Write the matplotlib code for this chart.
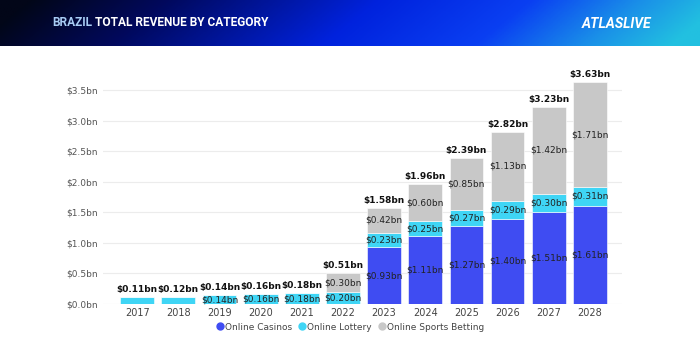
import numpy as np
import matplotlib.pyplot as plt
from matplotlib.colors import LinearSegmentedColormap

years = ["2017", "2018", "2019", "2020", "2021", "2022",
         "2023", "2024", "2025", "2026", "2027", "2028"]
casinos = [0, 0, 0, 0, 0, 0, 0.93, 1.11, 1.27, 1.40, 1.51, 1.61]
lottery = [0.11, 0.12, 0.14, 0.16, 0.18, 0.20, 0.23, 0.25, 0.27, 0.29, 0.30, 0.31]
sports = [0, 0, 0, 0, 0, 0.30, 0.42, 0.60, 0.85, 1.13, 1.42, 1.71]
totals = [0.11, 0.12, 0.14, 0.16, 0.18, 0.51, 1.58, 1.96, 2.39, 2.82, 3.23, 3.63]
series_names = ["Online Casinos", "Online Lottery", "Online Sports Betting"]
colors = ["#3f4cf2", "#3fd5f5", "#c8c8c8"]

fig = plt.figure(figsize=(7, 3.5), dpi=100)
fig.patch.set_facecolor("white")

# header band with gradient
hdr = fig.add_axes([0, 1 - 46 / 350, 1, 46 / 350])
cmap = LinearSegmentedColormap.from_list(
    "hdr", [(0, "#020618"), (0.2, "#01095e"), (0.5, "#0022dd"),
            (0.72, "#0a3ff2"), (0.88, "#1a90e8"), (1, "#22c0e0")])
gx = np.linspace(0, 1, 400)
gy = np.linspace(0, 1, 30)
X, Y = np.meshgrid(gx, gy)
hdr.imshow(np.clip(X + 0.08 * Y - 0.04, 0, 1), cmap=cmap, aspect="auto",
           extent=[0, 1, 0, 1], origin="upper")
hdr.set_axis_off()
t1 = hdr.text(52 / 700, 0.52, "BRAZIL", color="#a8ccf4", fontsize=8.6,
              fontweight="bold", family="Roboto", va="center", ha="left")
hdr.annotate(" TOTAL REVENUE BY CATEGORY", xy=(1, 0.5), xycoords=t1,
             color="white", fontsize=8.6, fontweight="bold", family="Roboto",
             va="center", ha="left")
hdr.text(617 / 700, 0.47, "ATLASLIVE", color="white", fontsize=10,
         fontweight="bold", style="italic", family="Roboto",
         va="center", ha="center")

ax = fig.add_axes([103 / 700, 1 - 304 / 350, 519 / 700, 238 / 350])
x = np.arange(len(years))
w = 0.82
bottom = np.zeros(len(years))
for vals, name, c in zip([casinos, lottery, sports], series_names, colors):
    vals = np.array(vals)
    ax.bar(x, vals, w, bottom=bottom, color=c, label=name, edgecolor="white",
           linewidth=0.4, zorder=2)
    for i, v in enumerate(vals):
        if v >= 0.13:
            ax.text(x[i], bottom[i] + v / 2, f"${v:.2f}bn", ha="center",
                    va="center", fontsize=6.5, color="#222222", zorder=3)
    bottom += vals

for i, t in enumerate(totals):
    ax.text(x[i], bottom[i] + 0.05, f"${t:.2f}bn", ha="center", va="bottom",
            fontsize=6.5, fontweight="bold", color="#111111", zorder=3)

ax.set_xlim(-0.83, 11.78)
ax.set_ylim(0, 3.9)
ax.set_yticks(np.arange(0, 3.6, 0.5))
ax.set_yticklabels([f"${v:.1f}bn" for v in np.arange(0, 3.6, 0.5)])
ax.set_xticks(x)
ax.set_xticklabels(years)
ax.tick_params(axis="y", length=0, labelsize=6.5, labelcolor="#555555", pad=4)
ax.tick_params(axis="x", length=0, labelsize=7, labelcolor="#444444", pad=3)
ax.grid(axis="y", color="#ececec", linewidth=0.8, zorder=0)
for s in ax.spines.values():
    s.set_visible(False)

leg = fig.legend(
    [plt.Line2D([], [], marker="o", ls="", color=c, markersize=5) for c in colors],
    series_names, loc="center", bbox_to_anchor=(350 / 700, 1 - 327 / 350),
    ncol=3, frameon=False, fontsize=6.5, handletextpad=0.05, columnspacing=0.6,
    handlelength=1.0)
for t in leg.get_texts():
    t.set_color("#444444")

fig.savefig("out.png", dpi=100, facecolor="white")
